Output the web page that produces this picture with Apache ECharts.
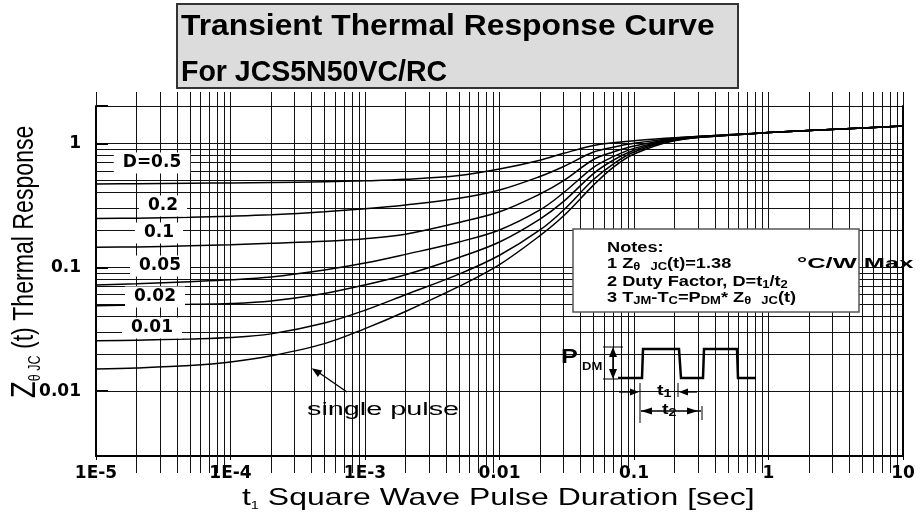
<!DOCTYPE html>
<html>
<head>
<meta charset="utf-8">
<script src="https://cdn.jsdelivr.net/npm/echarts@6/dist/echarts.min.js"></script>
<style>html,body{margin:0;padding:0;background:#fff;}#chart{width:921px;height:517px;}</style>
</head>
<body>
<div id="chart"></div>
<script>
// ---- data ----
const pulseDurations = [1e-5, 2e-5, 5e-5, 1e-4, 2e-4, 5e-4, 1e-3, 2e-3, 5e-3, 0.01, 0.02, 0.03, 0.05, 0.07, 0.1, 0.2, 0.5, 1, 2, 5, 10];
const zthD050 = [0.47, 0.472, 0.476, 0.479, 0.483, 0.49, 0.498, 0.512, 0.55, 0.62, 0.73, 0.83, 0.96, 1.01, 1.05, 1.11, 1.17, 1.22, 1.27, 1.33, 1.38];
const zthD020 = [0.247, 0.249, 0.253, 0.258, 0.265, 0.28, 0.296, 0.318, 0.36, 0.42, 0.54, 0.65, 0.85, 0.93, 1.0, 1.1, 1.17, 1.22, 1.27, 1.33, 1.38];
const zthD010 = [0.145, 0.146, 0.149, 0.152, 0.156, 0.162, 0.17, 0.185, 0.23, 0.28, 0.39, 0.5, 0.74, 0.85, 0.95, 1.09, 1.17, 1.22, 1.27, 1.33, 1.38];
const zthD005 = [0.072, 0.0735, 0.0765, 0.0792, 0.0835, 0.095, 0.108, 0.127, 0.16, 0.2, 0.29, 0.4, 0.64, 0.78, 0.91, 1.08, 1.16, 1.22, 1.27, 1.33, 1.38];
const zthD002 = [0.049, 0.0495, 0.0502, 0.051, 0.0535, 0.0615, 0.072, 0.087, 0.12, 0.16, 0.245, 0.34, 0.57, 0.73, 0.88, 1.07, 1.16, 1.22, 1.27, 1.33, 1.38];
const zthD001 = [0.0255, 0.0258, 0.0264, 0.0271, 0.029, 0.0355, 0.045, 0.06, 0.088, 0.125, 0.2, 0.29, 0.51, 0.68, 0.85, 1.06, 1.16, 1.22, 1.27, 1.33, 1.38];
const zthSingle = [0.0151, 0.0154, 0.0161, 0.0172, 0.0193, 0.0242, 0.032, 0.044, 0.07, 0.105, 0.18, 0.26, 0.46, 0.64, 0.82, 1.05, 1.16, 1.22, 1.27, 1.33, 1.38];
const curveNames = ['D=0.5', '0.2', '0.1', '0.05', '0.02', '0.01', 'single pulse'];
const xTickLabels = ['1E-5', '1E-4', '1E-3', '0.01', '0.1', '1', '10'];
const yTickLabels = ['0.01', '0.1', '1'];
const yMinorGrid = [0.004, 0.005, 0.006, 0.007, 0.008, 0.009, 0.02, 0.03, 0.04, 0.05, 0.06, 0.07, 0.08, 0.09, 0.2, 0.3, 0.4, 0.5, 0.6, 0.7, 0.8, 0.9];
const xRange = [1e-5, 10];
const yRange = [0.003, 2];

// ---- chart ----
const SANS = "'Liberation Sans', Arial, sans-serif";
const BOLD = "'DejaVu Sans', sans-serif";
const curveSets = [zthD050, zthD020, zthD010, zthD005, zthD002, zthD001, zthSingle];
const labelCenters = [[152, 163], [163, 206], [159, 233], [160, 266], [155, 297], [152, 328]];

function isDecade(v) { const l = Math.log10(v); return Math.abs(l - Math.round(l)) < 1e-6; }

const chart = echarts.init(document.getElementById('chart'), null, { renderer: 'canvas' });

const series = curveSets.map((arr, k) => ({
  type: 'line', name: curveNames[k], xAxisIndex: 0, yAxisIndex: 0,
  data: pulseDurations.map((t, i) => [t, arr[i]]),
  symbol: 'none', showSymbol: false, smooth: 0.35,
  lineStyle: { color: '#000', width: 1.5 }, z: 5, silent: true
}));
series.push({
  type: 'line', name: 'grid', data: [], xAxisIndex: 0, yAxisIndex: 0, silent: true,
  markLine: {
    silent: true, symbol: ['none', 'none'], animation: false,
    label: { show: false },
    lineStyle: { color: '#111', width: 1, type: 'solid' },
    emphasis: { disabled: true },
    data: yMinorGrid.map(v => ({ yAxis: v }))
  }
});

const tickFont = { fontFamily: BOLD, fontWeight: 'bold', fontSize: 17, color: '#000' };
const gridLine = { color: '#111', width: 1 };

const graphic = [];
// title box
graphic.push({ type: 'rect', z: 100, shape: { x: 177, y: 4, width: 561, height: 84 }, style: { fill: '#dcdcdc', stroke: '#333', lineWidth: 2 } });
graphic.push({ type: 'text', z: 101, x: 181, y: 27, scaleX: 1.06, style: { text: 'Transient Thermal Response Curve', fontFamily: SANS, fontWeight: 'bold', fontSize: 30, fill: '#000', align: 'left', verticalAlign: 'middle' } });
graphic.push({ type: 'text', z: 101, x: 181, y: 73, scaleX: 0.95, style: { text: 'For JCS5N50VC/RC', fontFamily: SANS, fontWeight: 'bold', fontSize: 30, fill: '#000', align: 'left', verticalAlign: 'middle' } });
// y axis title
graphic.push({ type: 'text', z: 101, x: 25, y: 398, rotation: Math.PI / 2, scaleX: 1.05, scaleY: 1.35, style: {
  text: '{z|Z}{s|θ JC}{n| (t) Thermal Response}', align: 'left', verticalAlign: 'middle', fill: '#000',
  rich: {
    z: { fontFamily: SANS, fontSize: 26, lineHeight: 28, fill: '#000' },
    s: { fontFamily: SANS, fontSize: 12, lineHeight: 12, verticalAlign: 'bottom', fill: '#000' },
    n: { fontFamily: SANS, fontSize: 22, lineHeight: 28, fill: '#000' }
  } } });
// x axis title
graphic.push({ type: 'text', z: 101, x: 242, y: 498, scaleX: 1.33, style: {
  text: '{n|t}{s|1}{n| Square Wave Pulse Duration [sec]}', align: 'left', verticalAlign: 'middle', fill: '#000',
  rich: {
    n: { fontFamily: SANS, fontSize: 24, lineHeight: 26, fill: '#000' },
    s: { fontFamily: SANS, fontSize: 11, lineHeight: 11, verticalAlign: 'bottom', fill: '#000' }
  } } });
// curve labels
labelCenters.forEach((c, k) => {
  graphic.push({ type: 'text', z: 101, x: c[0], y: c[1], style: {
    text: curveNames[k], fontFamily: BOLD, fontWeight: 'bold', fontSize: 17, fill: '#000',
    backgroundColor: '#fff', padding: [2, 9, 2, 9], align: 'center', verticalAlign: 'middle' } });
});
// single pulse annotation
graphic.push({ type: 'text', z: 101, x: 307, y: 410, scaleX: 1.6, style: { text: curveNames[6], fontFamily: SANS, fontSize: 18, fill: '#000', align: 'left', verticalAlign: 'middle' } });
graphic.push({ type: 'line', z: 101, shape: { x1: 347, y1: 392, x2: 318, y2: 372 }, style: { stroke: '#000', lineWidth: 1.3 } });
graphic.push({ type: 'polygon', z: 101, shape: { points: [[311.7, 368.3], [322.3, 370.5], [317.9, 377.1]] }, style: { fill: '#000' } });
// notes box
graphic.push({ type: 'rect', z: 100, shape: { x: 573, y: 229, width: 286, height: 83 }, style: { fill: '#fff', stroke: '#555', lineWidth: 1.5 } });
const noteRich = {
  n: { fontFamily: SANS, fontWeight: 'bold', fontSize: 14, lineHeight: 16, fill: '#000' },
  s: { fontFamily: SANS, fontWeight: 'bold', fontSize: 10, lineHeight: 10, verticalAlign: 'bottom', fill: '#000' }
};
const noteLines = [
  ['{n|Notes:}', 248],
  ['{n|1 Z}{s|θ}{n|  }{s|JC}{n|(t)=1.38}', 264],
  ['{n|2 Duty Factor, D=t}{s|1}{n|/t}{s|2}', 282],
  ['{n|3 T}{s|JM}{n|-T}{s|C}{n|=P}{s|DM}{n|* Z}{s|θ}{n|  }{s|JC}{n|(t)}', 298]
];
noteLines.forEach(l => graphic.push({ type: 'text', z: 101, x: 607, y: l[1], scaleX: 1.3, style: { text: l[0], rich: noteRich, align: 'left', verticalAlign: 'middle', fill: '#000' } }));
graphic.push({ type: 'text', z: 101, x: 797, y: 264, scaleX: 1.82, style: { text: '°C/W Max', fontFamily: SANS, fontWeight: 'bold', fontSize: 14, fill: '#000', align: 'left', verticalAlign: 'middle' } });
// pulse diagram
graphic.push({ type: 'text', z: 101, x: 561, y: 357, scaleX: 1.2, style: { text: 'P', fontFamily: SANS, fontWeight: 'bold', fontSize: 21, fill: '#000', align: 'left', verticalAlign: 'middle' } });
graphic.push({ type: 'text', z: 101, x: 582, y: 367, scaleX: 1.3, style: { text: 'DM', fontFamily: SANS, fontWeight: 'bold', fontSize: 10, fill: '#000', align: 'left', verticalAlign: 'middle' } });
graphic.push({ type: 'polyline', z: 101, shape: { points: [[618, 378], [642, 378], [643, 349], [679, 349], [681, 378], [703, 378], [704, 349], [737, 349], [738, 378], [756, 378]] }, style: { stroke: '#000', lineWidth: 2.5, fill: null } });
graphic.push({ type: 'line', z: 101, shape: { x1: 603, y1: 347, x2: 623, y2: 347 }, style: { stroke: '#000', lineWidth: 1 } });
graphic.push({ type: 'line', z: 101, shape: { x1: 603, y1: 379, x2: 618, y2: 379 }, style: { stroke: '#000', lineWidth: 1 } });
graphic.push({ type: 'line', z: 101, shape: { x1: 613, y1: 352, x2: 613, y2: 374 }, style: { stroke: '#000', lineWidth: 1.5 } });
graphic.push({ type: 'polygon', z: 101, shape: { points: [[613, 347], [609, 357], [617, 357]] }, style: { fill: '#000' } });
graphic.push({ type: 'polygon', z: 101, shape: { points: [[613, 379], [609, 369], [617, 369]] }, style: { fill: '#000' } });
// t1 / t2 dimensions
graphic.push({ type: 'line', z: 101, shape: { x1: 640, y1: 383, x2: 640, y2: 423 }, style: { stroke: '#000', lineWidth: 1 } });
graphic.push({ type: 'line', z: 101, shape: { x1: 678, y1: 383, x2: 678, y2: 397 }, style: { stroke: '#000', lineWidth: 1 } });
graphic.push({ type: 'line', z: 101, shape: { x1: 702, y1: 406, x2: 702, y2: 420 }, style: { stroke: '#000', lineWidth: 1 } });
graphic.push({ type: 'line', z: 101, shape: { x1: 619, y1: 392, x2: 632, y2: 392 }, style: { stroke: '#000', lineWidth: 1.3 } });
graphic.push({ type: 'polygon', z: 101, shape: { points: [[639, 392], [630, 388.5], [630, 395.5]] }, style: { fill: '#000' } });
graphic.push({ type: 'line', z: 101, shape: { x1: 686, y1: 392, x2: 697, y2: 392 }, style: { stroke: '#000', lineWidth: 1.3 } });
graphic.push({ type: 'polygon', z: 101, shape: { points: [[679, 392], [688, 388.5], [688, 395.5]] }, style: { fill: '#000' } });
graphic.push({ type: 'text', z: 101, x: 657, y: 391, scaleX: 1.3, style: { text: '{n|t}{s|1}', rich: {
  n: { fontFamily: SANS, fontWeight: 'bold', fontSize: 15, lineHeight: 16, fill: '#000' },
  s: { fontFamily: SANS, fontWeight: 'bold', fontSize: 11, lineHeight: 11, verticalAlign: 'bottom', fill: '#000' } }, align: 'left', verticalAlign: 'middle' } });
graphic.push({ type: 'line', z: 101, shape: { x1: 641, y1: 411, x2: 701, y2: 411 }, style: { stroke: '#000', lineWidth: 1.3 } });
graphic.push({ type: 'polygon', z: 101, shape: { points: [[641, 411], [652, 407.5], [652, 414.5]] }, style: { fill: '#000' } });
graphic.push({ type: 'polygon', z: 101, shape: { points: [[698, 411], [687, 407.5], [687, 414.5]] }, style: { fill: '#000' } });
graphic.push({ type: 'text', z: 101, x: 662, y: 410, scaleX: 1.3, style: { text: '{n|t}{s|2}', rich: {
  n: { fontFamily: SANS, fontWeight: 'bold', fontSize: 15, lineHeight: 16, fill: '#000' },
  s: { fontFamily: SANS, fontWeight: 'bold', fontSize: 11, lineHeight: 11, verticalAlign: 'bottom', fill: '#000' } }, align: 'left', verticalAlign: 'middle' } });

const option = {
  animation: false,
  backgroundColor: '#fff',
  grid: { left: 96, right: 18, top: 106, bottom: 61, containLabel: false },
  xAxis: [
    {
      type: 'log', logBase: 10, min: xRange[0], max: xRange[1], position: 'bottom', gridIndex: 0,
      axisLine: { show: true, onZero: false, lineStyle: { color: '#000', width: 2 } },
      axisTick: { show: true, inside: false, length: 4, lineStyle: { color: '#000', width: 1 } },
      minorTick: { show: true, splitNumber: 9, length: 17, lineStyle: { color: '#111', width: 1 } },
      splitLine: { show: true, lineStyle: gridLine },
      minorSplitLine: { show: true, lineStyle: gridLine },
      axisLabel: Object.assign({ margin: 9, showMinLabel: true, showMaxLabel: true,
        formatter: v => isDecade(v) ? xTickLabels[Math.round(Math.log10(v)) + 5] : '' }, tickFont)
    },
    {
      type: 'log', logBase: 10, min: xRange[0], max: xRange[1], position: 'top', gridIndex: 0,
      axisLine: { show: false },
      axisTick: { show: true, inside: false, length: 14, lineStyle: { color: '#111', width: 1 } },
      minorTick: { show: true, splitNumber: 9, length: 14, lineStyle: { color: '#111', width: 1 } },
      splitLine: { show: false }, minorSplitLine: { show: false },
      axisLabel: { show: false }
    }
  ],
  yAxis: [
    {
      type: 'log', logBase: 10, min: yRange[0], max: yRange[1], position: 'left', gridIndex: 0,
      axisLine: { show: true, onZero: false, lineStyle: { color: '#000', width: 2 } },
      axisTick: { show: true, inside: true, length: 12, lineStyle: { color: '#000', width: 2 } },
      splitLine: { show: true, lineStyle: gridLine },
      axisLabel: Object.assign({ margin: 15, showMinLabel: true, showMaxLabel: true,
        formatter: v => isDecade(v) ? yTickLabels[Math.round(Math.log10(v)) + 2] : '' }, tickFont)
    },
    {
      type: 'log', logBase: 10, min: yRange[0], max: yRange[1], position: 'right', gridIndex: 0,
      axisLine: { show: true, onZero: false, lineStyle: { color: '#000', width: 2 } },
      axisTick: { show: false }, splitLine: { show: false }, axisLabel: { show: false }
    }
  ],
  series: series,
  graphic: { elements: graphic }
};
chart.setOption(option);
</script>
</body>
</html>
